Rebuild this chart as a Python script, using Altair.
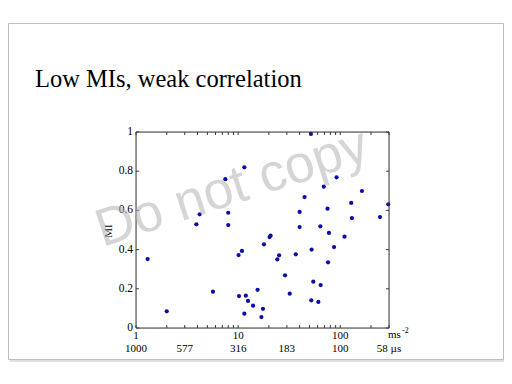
import altair as alt
import pandas as pd

# ---- data ----
x_vals = [1.3, 2.0, 3.9, 4.2, 5.67, 7.5, 8.0, 8.0, 10.1, 10.9,
          11.5, 10.2, 11.9, 12.5, 11.5, 14.0, 15.5, 16.9, 17.5, 17.9,
          20.3, 20.8, 24.2, 25.2, 28.8, 32.0, 36.7, 40.0, 40.0, 44.7,
          51.6, 52.0, 52.4, 54.4, 61.0, 63.8, 64.3, 69.0, 75.0, 75.9,
          77.5, 86.9, 92.0, 110, 128, 130, 163, 245, 295]
mi_vals = [0.352, 0.085, 0.529, 0.58, 0.185, 0.759, 0.588, 0.525, 0.372, 0.393,
           0.82, 0.163, 0.165, 0.138, 0.073, 0.114, 0.195, 0.056, 0.098, 0.427,
           0.464, 0.471, 0.35, 0.371, 0.269, 0.175, 0.376, 0.592, 0.515, 0.668,
           0.99, 0.141, 0.40, 0.236, 0.133, 0.519, 0.219, 0.721, 0.609, 0.335,
           0.485, 0.413, 0.769, 0.466, 0.638, 0.561, 0.699, 0.566, 0.631]

title_text = "Low MIs, weak correlation"
watermark_text = "Do not copy"
y_title = "MI"
x_unit = "ms"
x_unit_exp = "-2"

x_major = [1, 10, 100]
x_major_labels = ["1", "10", "100"]
x_minor = [2, 3, 4, 5, 6, 7, 8, 9, 20, 30, 40, 50, 60, 70, 80, 90, 200, 300]
y_ticks = [0, 0.2, 0.4, 0.6, 0.8, 1]
y_labels = ["0", "0.2", "0.4", "0.6", "0.8", "1"]
us_pos = [1, 3, 10, 30, 100, 300]
us_labels = ["1000", "577", "316", "183", "100", "58 \u00b5s"]

W, H = 253, 196
SERIF = "Liberation Serif"
AX = "#3a3a3a"

xscale = alt.Scale(type="log", domain=[1, 300], nice=False)
yscale = alt.Scale(domain=[0, 1], nice=False)

one = pd.DataFrame({"a": [0]})
pts = pd.DataFrame({"x": x_vals, "mi": mi_vals})
xt = pd.DataFrame({"x": x_major + x_minor})
xl = pd.DataFrame({"x": x_major, "lab": x_major_labels})
yt = pd.DataFrame({"y": y_ticks, "lab": y_labels})
us = pd.DataFrame({"x": us_pos, "lab": us_labels})

xs = alt.X("x:Q", scale=xscale, axis=None)
ys = alt.Y("y:Q", scale=yscale, axis=None)

# slide frame (kept inside the drawable page area) with soft bottom shadow
shadow_b = alt.Chart(one).mark_rule(color="#e0e0e0", strokeWidth=2).encode(
    y=alt.value(229), x=alt.value(-126), x2=alt.value(369))
frame = alt.Chart(one).mark_rect(fillOpacity=0, stroke="#bcbcbc", strokeWidth=1).encode(
    x=alt.value(-127.5), x2=alt.value(367.5), y=alt.value(-108.5), y2=alt.value(227.5))

title = alt.Chart(one).mark_text(font=SERIF, fontSize=24.5, align="left",
                                 baseline="alphabetic", color="black").encode(
    x=alt.value(-101), y=alt.value(-45), text=alt.value(title_text))

points = alt.Chart(pts).mark_circle(size=18, color="#0c0cac", opacity=1).encode(
    x=alt.X("x:Q", scale=xscale, axis=None),
    y=alt.Y("mi:Q", scale=yscale, axis=None),
)

box = alt.Chart(one).mark_rect(fillOpacity=0, stroke=AX, strokeWidth=1).encode(
    x=alt.value(0), x2=alt.value(W), y=alt.value(0), y2=alt.value(H))

tick_bottom = alt.Chart(xt).mark_rule(color=AX).encode(x=xs, y=alt.value(H), y2=alt.value(H - 3))
tick_top = alt.Chart(xt).mark_rule(color=AX).encode(x=xs, y=alt.value(0), y2=alt.value(3))
tick_left = alt.Chart(yt).mark_rule(color=AX).encode(y=ys, x=alt.value(0), x2=alt.value(3))
tick_right = alt.Chart(yt).mark_rule(color=AX).encode(y=ys, x=alt.value(W), x2=alt.value(W - 3))

x_lab = alt.Chart(xl).mark_text(font=SERIF, fontSize=11, baseline="alphabetic",
                                color="black").encode(
    x=xs, y=alt.value(207), text="lab:N")
y_lab = alt.Chart(yt).mark_text(font=SERIF, fontSize=11.5, align="right",
                                baseline="middle", color="black").encode(
    y=ys, x=alt.value(-3), text="lab:N")
us_text = alt.Chart(us).mark_text(font=SERIF, fontSize=11, baseline="alphabetic",
                                  color="black").encode(
    x=xs, y=alt.value(220), text="lab:N")

ytitle = alt.Chart(one).mark_text(font=SERIF, fontSize=11, angle=270,
                                  align="center", baseline="middle",
                                  color="black").encode(
    x=alt.value(-27), y=alt.value(99), text=alt.value(y_title))

unit = alt.Chart(one).mark_text(font=SERIF, fontSize=11, align="left",
                                baseline="alphabetic", color="black").encode(
    x=alt.value(252), y=alt.value(206), text=alt.value(x_unit))
unit_exp = alt.Chart(one).mark_text(font=SERIF, fontSize=8, align="left",
                                    baseline="alphabetic", color="black").encode(
    x=alt.value(266), y=alt.value(201), text=alt.value(x_unit_exp))

watermark = alt.Chart(one).mark_text(font="Liberation Sans", fontSize=53, angle=342,
                                     align="center", baseline="middle",
                                     color="#b4b4b4", opacity=0.55).encode(
    x=alt.value(96), y=alt.value(56), text=alt.value(watermark_text))

chart = alt.layer(
    points, shadow_b, frame, title, box, tick_bottom, tick_top, tick_left,
    tick_right, x_lab, y_lab, us_text, ytitle, unit, unit_exp, watermark
).properties(
    width=W, height=H,
    autosize=alt.AutoSizeParams(type="none"),
    padding={"left": 128, "top": 124, "right": 115, "bottom": 48},
).configure_view(stroke=None).configure(background="white")

chart.save("out.html", embed_options={"renderer": "svg", "actions": False})
